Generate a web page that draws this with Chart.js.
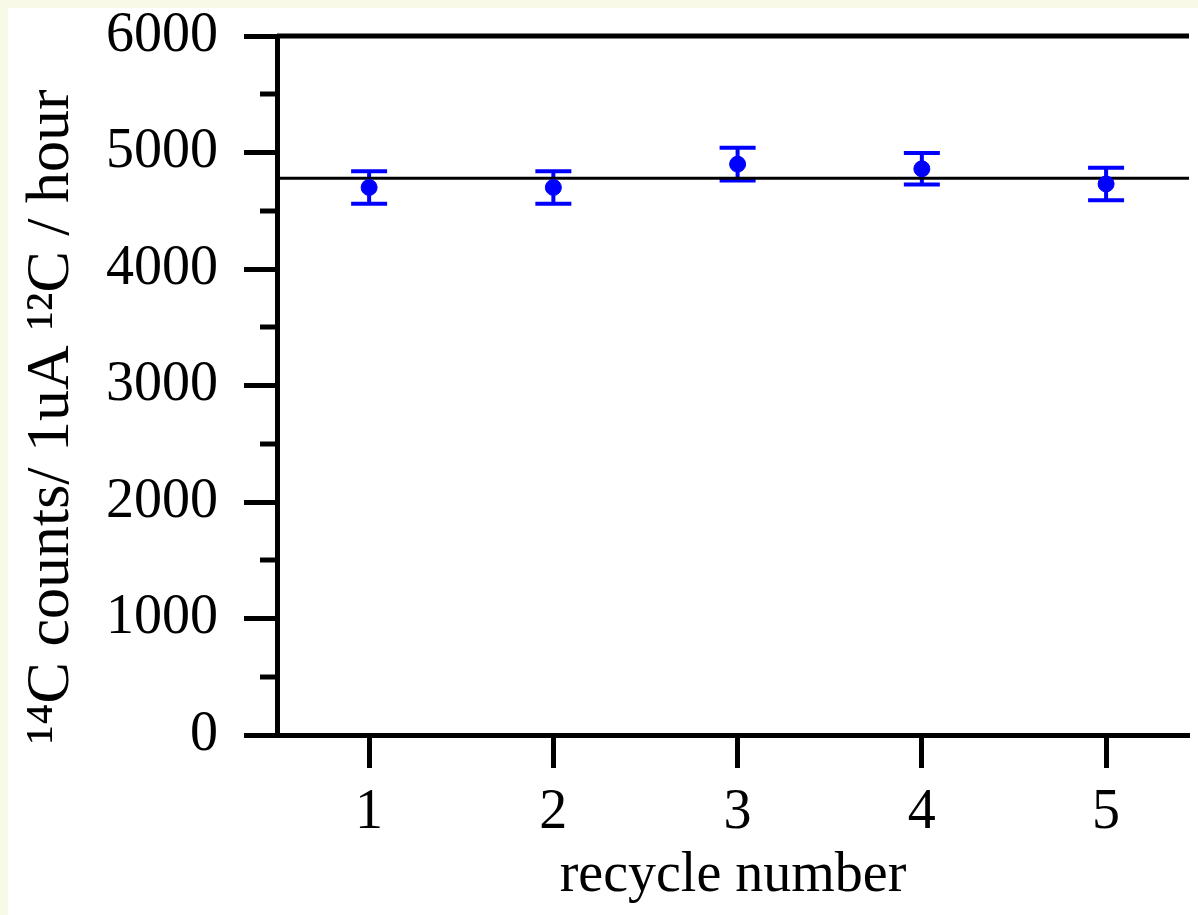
<!DOCTYPE html>
<html>
<head>
<meta charset="utf-8">
<script src="https://cdn.jsdelivr.net/npm/chart.js@4.4.1/dist/chart.umd.min.js"></script>
<style>
  html, body { margin: 0; padding: 0; background: #f8f9e6; }
  #wrap { position: absolute; left: 8px; top: 8px; width: 1190px; height: 907px; background: #ffffff; }
  canvas { display: block; }
</style>
</head>
<body>
<div id="wrap"><canvas id="c" width="1190" height="907"></canvas></div>
<script>
// ---- data ----
const recycleNumbers = [1, 2, 3, 4, 5];
const countsMean = [4700, 4700, 4900, 4860, 4730];
const countsError = [140, 140, 140, 135, 140];
const meanLevel = [4778];
const xTickValues = [1, 2, 3, 4, 5];
const yTickValues = [0, 1000, 2000, 3000, 4000, 5000, 6000];
const yMinorTickValues = [500, 1500, 2500, 3500, 4500, 5500];
const xRange = [0.5, 5.45];
const yRange = [0, 6000];
const xTitle = 'recycle number';
const yTitle = '\u00B9\u2074C counts/ 1uA \u00B9\u00B2C / hour    ';

const FONT = "'Liberation Serif', 'Times New Roman', serif";

const extrasPlugin = {
  id: 'extras',
  beforeDatasetsDraw(chart) {
    const {ctx, scales: {x, y}} = chart;
    ctx.save();
    ctx.strokeStyle = '#0000ff';
    ctx.lineWidth = 4;
    const capHalf = 18;
    recycleNumbers.forEach((n, i) => {
      const px = x.getPixelForValue(n);
      const top = y.getPixelForValue(countsMean[i] + countsError[i]);
      const bot = y.getPixelForValue(countsMean[i] - countsError[i]);
      ctx.beginPath();
      ctx.moveTo(px, top); ctx.lineTo(px, bot);
      ctx.moveTo(px - capHalf, top); ctx.lineTo(px + capHalf, top);
      ctx.moveTo(px - capHalf, bot); ctx.lineTo(px + capHalf, bot);
      ctx.stroke();
    });
    ctx.restore();
  },
  afterDraw(chart) {
    const {ctx, chartArea, scales: {y}} = chart;
    ctx.save();
    ctx.strokeStyle = '#000';
    ctx.lineWidth = 5;
    // top frame line
    const yt = y.getPixelForValue(yRange[1]);
    ctx.beginPath();
    ctx.moveTo(chartArea.left, yt);
    ctx.lineTo(chartArea.right, yt);
    ctx.stroke();
    // minor y ticks
    yMinorTickValues.forEach(v => {
      const py = Math.round(y.getPixelForValue(v));
      ctx.beginPath();
      ctx.moveTo(chartArea.left - 17, py);
      ctx.lineTo(chartArea.left, py);
      ctx.stroke();
    });
    ctx.restore();
  }
};

new Chart(document.getElementById('c'), {
  type: 'scatter',
  data: {
    datasets: [
      {
        type: 'scatter',
        data: recycleNumbers.map((n, i) => ({x: n, y: countsMean[i]})),
        backgroundColor: '#0000ff',
        borderColor: '#0000ff',
        pointRadius: 8,
        pointHoverRadius: 8,
        order: 1
      },
      {
        type: 'line',
        data: xRange.map(v => ({x: v, y: meanLevel[0]})),
        borderColor: '#000',
        borderWidth: 3,
        pointRadius: 0,
        fill: false,
        order: 2
      }
    ]
  },
  options: {
    responsive: false,
    animation: false,
    devicePixelRatio: 1,
    layout: { padding: { top: 28, right: 0, bottom: 0, left: 0 } },
    plugins: { legend: { display: false }, tooltip: { enabled: false } },
    scales: {
      x: {
        type: 'linear',
        position: 'bottom',
        min: xRange[0],
        max: xRange[1],
        afterBuildTicks: s => { s.ticks = xTickValues.map(v => ({value: v})); },
        afterFit: s => { s.height = 180; s.paddingLeft = 0; s.paddingRight = 0; },
        ticks: {
          color: '#000',
          font: { family: FONT, size: 56 },
          padding: 12,
          maxRotation: 0,
          callback: v => String(v)
        },
        grid: {
          drawOnChartArea: false,
          drawTicks: true,
          tickLength: 33,
          tickWidth: 5,
          tickColor: '#000'
        },
        border: { display: true, width: 5, color: '#000' },
        title: {
          display: true,
          text: xTitle,
          color: '#000',
          font: { family: FONT, size: 56 },
          padding: { top: 0, bottom: 5 }
        }
      },
      y: {
        type: 'linear',
        position: 'left',
        min: yRange[0],
        max: yRange[1],
        afterBuildTicks: s => { s.ticks = yTickValues.map(v => ({value: v})); },
        afterFit: s => { s.width = 269; s.paddingTop = 0; s.paddingBottom = 0; },
        ticks: {
          color: '#000',
          font: { family: FONT, size: 56 },
          padding: 26,
          callback: v => String(v)
        },
        grid: {
          drawOnChartArea: false,
          drawTicks: true,
          tickLength: 33,
          tickWidth: 5,
          tickColor: '#000'
        },
        border: { display: true, width: 5, color: '#000' },
        title: {
          display: true,
          text: yTitle,
          color: '#000',
          font: { family: FONT, size: 62 },
          padding: { top: 7, bottom: 0 }
        }
      }
    }
  },
  plugins: [extrasPlugin]
});
</script>
</body>
</html>
